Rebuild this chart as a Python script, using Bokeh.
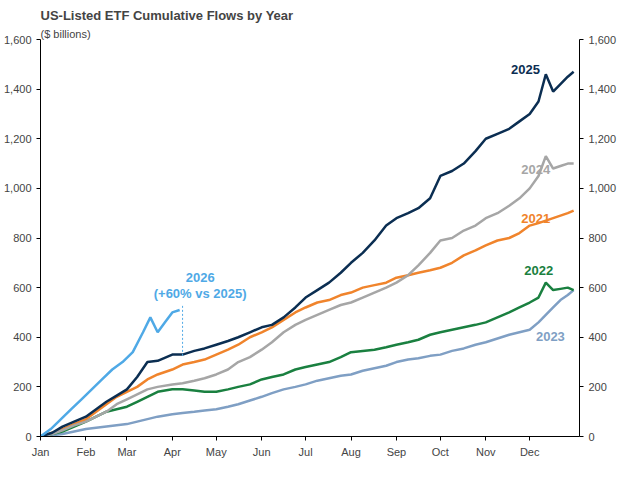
from bokeh.plotting import figure
from bokeh.models import LinearAxis, Range1d, FixedTicker, NumeralTickFormatter, Label
from bokeh.embed import file_html
from bokeh.resources import INLINE

month_days = [0, 31, 59, 90, 120, 151, 181, 212, 243, 273, 304, 334]
month_labels = ["Jan","Feb","Mar","Apr","May","Jun","Jul","Aug","Sep","Oct","Nov","Dec"]

days = [0,8,15,23,31,38,45,52,59,66,73,80,90,97,105,112,120,128,135,143,151,158,166,174,181,189,197,205,212,220,228,236,243,251,258,266,273,281,289,297,304,312,320,327,334,340,345,350,355,360,364]

s2025 = [0,15,40,60,80,110,140,165,190,240,300,305,330,330,345,355,370,385,400,420,440,450,480,520,560,590,620,660,700,740,790,850,880,900,920,960,1050,1070,1100,1150,1200,1220,1240,1270,1300,1350,1460,1390,1420,1450,1470]
s2024 = [0,10,25,45,60,80,100,130,150,170,190,200,210,215,225,235,250,270,300,320,350,380,420,450,470,490,510,530,540,560,580,600,620,650,690,740,790,800,830,850,880,900,930,960,1000,1050,1130,1080,1090,1100,1100]
s2021 = [0,15,30,50,70,100,130,160,180,200,230,250,270,290,300,310,330,350,370,400,420,440,470,500,520,540,550,570,580,600,610,620,640,650,660,670,680,700,730,750,770,790,800,820,850,860,870,880,890,900,910]
s2022 = [0,10,20,40,60,80,100,110,120,140,160,180,190,190,185,180,180,190,200,210,230,240,250,270,280,290,300,320,340,345,350,360,370,380,390,410,420,430,440,450,460,480,500,520,540,560,620,590,595,600,590]
s2023 = [0,5,10,20,30,35,40,45,50,60,70,80,90,95,100,105,110,120,130,145,160,175,190,200,210,225,235,245,250,265,275,285,300,310,315,325,330,345,355,370,380,395,410,420,430,460,490,520,550,570,590]
days26 = [0,7,14,21,28,35,42,49,56,63,70,75,80,85,90,95]
s2026 = [0,30,70,110,150,190,230,270,300,340,420,480,420,460,500,510]

p = figure(width=619, height=466, output_backend="svg", toolbar_location=None,
           x_range=Range1d(0, 368), y_range=Range1d(0, 1600),
           title="US-Listed ETF Cumulative Flows by Year", min_border_bottom=30)
p.title.text_font = "Arial"; p.title.text_font_size = "13px"; p.title.text_font_style = "bold"
p.add_layout(Label(x=0, y=0, x_units="screen", y_units="screen", text="($ billions)",
                   text_font_size="11px"), "above")
p.xgrid.visible = False; p.ygrid.visible = False
p.outline_line_color = None
p.extra_y_ranges = {"r": Range1d(0, 1600)}
p.add_layout(LinearAxis(y_range_name="r"), "right")
for ax in p.yaxis:
    ax.ticker = FixedTicker(ticks=list(range(0, 1601, 200)))
    ax.formatter = NumeralTickFormatter(format="0,0")
    ax.major_tick_in = 0; ax.major_tick_out = 4; ax.minor_tick_line_color = None
    ax.major_label_text_font_size = "11px"
p.xaxis.ticker = FixedTicker(ticks=month_days)
p.xaxis.major_label_overrides = {d: m for d, m in zip(month_days, month_labels)}
p.xaxis.major_label_text_font_size = "11px"
p.xaxis.minor_tick_line_color = None
p.xaxis.major_tick_in = 0; p.xaxis.major_tick_out = 4

series = [(s2023, "#7f9fc4", "2023", 405, 358), (s2022, "#1a8040", "2022", 670, 350),
          (s2021, "#f0842c", "2021", 880, 348), (s2024, "#a6a6a6", "2024", 1075, 348),
          (s2025, "#0b2e52", "2025", 1480, 341)]
for s, c, name, ly, lx in series:
    p.line(days, s, line_color=c, line_width=2.5)
    p.text(x=[lx], y=[ly], text=[name], text_color=c, text_font_size="13px",
           text_font_style="bold", text_align="right", text_baseline="middle")
p.line(days26, s2026, line_color="#4fa9e6", line_width=2.5)
p.segment(x0=[97], y0=[325], x1=[97], y1=[530], line_color="#4fa9e6", line_dash="2 2")
p.text(x=[109, 109], y=[640, 575], text=["2026", "(+60% vs 2025)"], text_color="#4fa9e6",
       text_font_size="13px", text_font_style="bold", text_align="center", text_baseline="middle")
p.add_layout(Label(x=345, y=-22, y_units="screen", text="© ELISA LIEN", text_color="#c8c8c8",
                   text_font_size="10px", text_align="left"))
open("out.html", "w").write(file_html(p, INLINE))
